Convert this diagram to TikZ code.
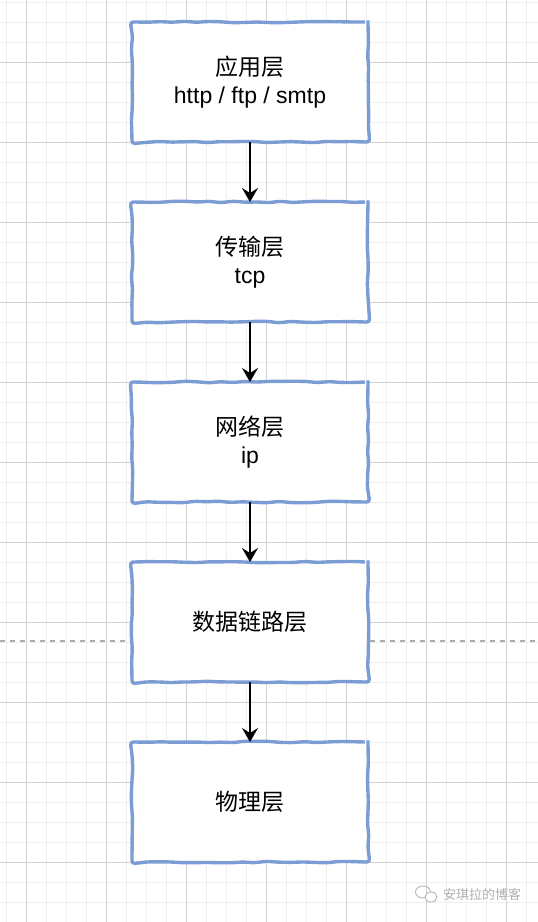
\documentclass[tikz,border=0pt]{standalone}
\usepackage{fontspec}
\setmainfont{Liberation Sans}
\newfontfamily\cjk{Noto Sans CJK SC}
\usetikzlibrary{arrows.meta, positioning, decorations.pathmorphing}
\definecolor{cblue}{RGB}{124, 156, 212}
\definecolor{cgridmin}{RGB}{239, 239, 239}
\definecolor{cgridmaj}{RGB}{210, 210, 210}
\definecolor{cbreak}{RGB}{170, 170, 170}
\definecolor{cmark}{RGB}{175, 175, 175}
\tikzset{
  layer/.style={draw=cblue, fill=white, line width=3.4pt, align=center,
                minimum width=236pt, minimum height=120pt, inner sep=0pt, outer sep=0pt,
                decorate, decoration={random steps, segment length=12pt, amplitude=0.8pt},
                rounded corners=3pt,
                font=\fontsize{23}{28}\selectfont},
  arr/.style={-{Stealth[length=14pt, width=16pt, inset=5pt]}, line width=1.8pt, draw=black},
  gridmin/.style={draw=cgridmin, line width=1pt},
  gridmaj/.style={draw=cgridmaj, line width=1pt},
  pgbreak/.style={draw=cbreak, line width=1.2pt, dash pattern=on 5pt off 5pt},
  wmark/.style={font=\fontsize{13}{15}\selectfont, text=cmark, inner sep=0pt},
}
\pgfmathsetseed{11}

\begin{document}
\begin{tikzpicture}[x=1pt, y=-1pt, node distance=60pt]
\useasboundingbox (0,0) rectangle (538,922);

% ---------- background grid ----------
\foreach \gx in {6.7,26.7,...,536.7} \draw[gridmin] (\gx,0) -- (\gx,922);
\foreach \gy in {2,22,...,922} \draw[gridmin] (0,\gy) -- (538,\gy);
\foreach \gx in {26.7,106.7,...,506.7} \draw[gridmaj] (\gx,0) -- (\gx,922);
\foreach \gy in {62,142,...,862} \draw[gridmaj] (0,\gy) -- (538,\gy);
\draw[pgbreak] (0,641) -- (538,641);

% ---------- layers ----------
\node[layer] (app) at (250,82) {{\cjk 应用层}\\http / ftp / smtp};
\node[layer, below=of app] (trans) {{\cjk 传输层}\\tcp};
\node[layer, below=of trans] (net) {{\cjk 网络层}\\ip};
\node[layer, below=of net] (link) {\cjk 数据链路层};
\node[layer, below=of link] (phy) {\cjk 物理层};

\draw[arr] (app) -- (trans);
\draw[arr] (trans) -- (net);
\draw[arr] (net) -- (link);
\draw[arr] (link) -- (phy);

% ---------- watermark ----------
\node[wmark, anchor=west] (blog) at (443,894) {\cjk 安琪拉的博客};
\draw[cmark, line width=0.8pt] (423,892) ellipse (7.5pt and 6pt);
\draw[cmark, line width=0.8pt, fill=white] (431,897) ellipse (6pt and 5pt);

\end{tikzpicture}
\end{document}
